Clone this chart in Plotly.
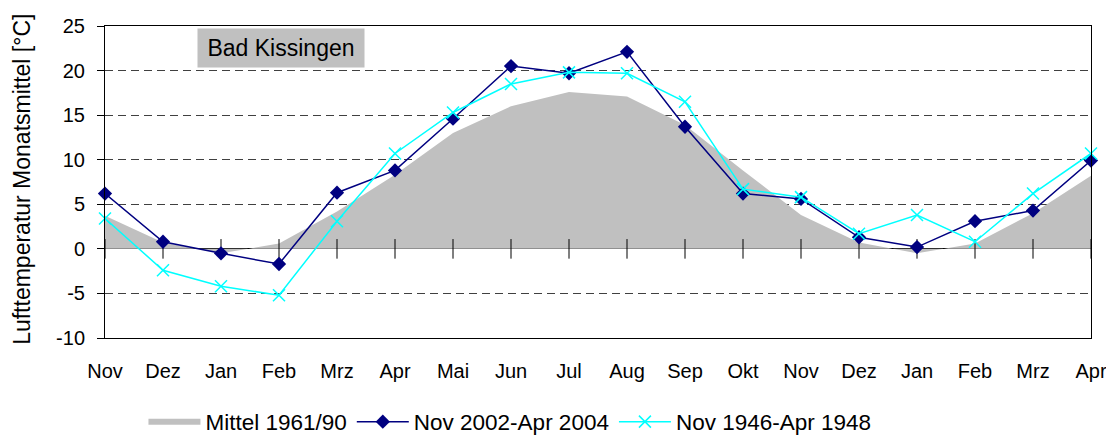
import plotly.graph_objects as go

months = ["Nov", "Dez", "Jan", "Feb", "Mrz", "Apr", "Mai", "Jun", "Jul",
          "Aug", "Sep", "Okt", "Nov", "Dez", "Jan", "Feb", "Mrz", "Apr"]
mittel_1961_90 = [3.7, 0.7, -0.5, 0.6, 4.2, 8.3, 13.0, 16.0, 17.6,
                  17.1, 13.9, 8.8, 3.8, 0.7, -0.5, 0.6, 4.0, 8.2]
nov2002_apr2004 = [6.2, 0.8, -0.5, -1.7, 6.3, 8.8, 14.6, 20.5, 19.7,
                   22.1, 13.7, 6.2, 5.6, 1.3, 0.2, 3.1, 4.3, 9.9]
nov1946_apr1948 = [3.4, -2.4, -4.2, -5.2, 3.1, 10.7, 15.3, 18.5, 19.8,
                   19.7, 16.5, 6.7, 5.8, 1.7, 3.8, 0.8, 6.2, 10.7]
y_ticks = [-10, -5, 0, 5, 10, 15, 20, 25]
y_labels = [str(v) for v in y_ticks]

xs = list(range(len(months)))
FONT = "Arial, Liberation Sans, sans-serif"

fig = go.Figure()
fig.add_trace(go.Scatter(
    x=xs, y=mittel_1961_90, name="Mittel 1961/90", mode="none",
    fill="tozeroy", fillcolor="#C0C0C0", cliponaxis=False))
# category tick marks crossing the zero line
fig.add_trace(go.Scatter(
    x=xs, y=[0] * len(xs), mode="markers", showlegend=False, hoverinfo="skip",
    marker=dict(symbol="line-ns-open", size=14, color="black",
                line=dict(color="black", width=1)), cliponaxis=False))
fig.add_trace(go.Scatter(
    x=xs, y=nov2002_apr2004, name="Nov 2002-Apr 2004", mode="lines+markers",
    line=dict(color="#000080", width=1.5),
    marker=dict(symbol="diamond", size=11, color="#000080"), cliponaxis=False))
fig.add_trace(go.Scatter(
    x=xs, y=nov1946_apr1948, name="Nov 1946-Apr 1948", mode="lines+markers",
    line=dict(color="#00FFFF", width=1.5),
    marker=dict(symbol="x-thin", size=12, color="#00FFFF",
                line=dict(color="#00FFFF", width=1.5)), cliponaxis=False))

fig.update_layout(
    template="none",
    width=1106, height=428,
    margin=dict(l=97, r=23, t=18, b=98, autoexpand=False),
    paper_bgcolor="white", plot_bgcolor="white",
    font=dict(family=FONT, size=20, color="black"),
    showlegend=True,
    legend=dict(orientation="h", xref="paper", x=0.039, xanchor="left",
                yref="container", y=0.0327, yanchor="middle",
                font=dict(size=22.5), itemwidth=52,
                traceorder="normal", bgcolor="rgba(0,0,0,0)"),
    annotations=[
        dict(text="Bad Kissingen", xref="paper", yref="paper",
             x=0.1785, y=0.929, xanchor="center", yanchor="middle",
             showarrow=False, bgcolor="#C0C0C0", borderpad=0,
             width=166, height=38, font=dict(size=23, color="black")),
        dict(text="Lufttemperatur Monatsmittel [°C]", xref="paper", yref="paper",
             x=-0.0842, y=0.51, xanchor="center", yanchor="middle",
             textangle=-90, showarrow=False, font=dict(size=23, color="black")),
    ],
)
fig.update_xaxes(
    range=[0, len(months) - 1], tickvals=xs, ticktext=months,
    showgrid=False, zeroline=False, ticks="", ticklabelstandoff=15,
    showline=True, linecolor="black", linewidth=1, mirror=True,
    automargin=False, tickfont=dict(size=20))
fig.update_yaxes(
    range=[-10, 25], tickvals=y_ticks, ticktext=y_labels,
    ticks="outside", ticklen=7, tickcolor="black", ticklabelstandoff=8,
    showgrid=True, gridcolor="#404040", griddash="8px,5px", gridwidth=1,
    zeroline=True, zerolinecolor="black", zerolinewidth=1.2,
    showline=True, linecolor="black", linewidth=1, mirror=True,
    automargin=False, tickfont=dict(size=20))

fig.write_html("out.html")
